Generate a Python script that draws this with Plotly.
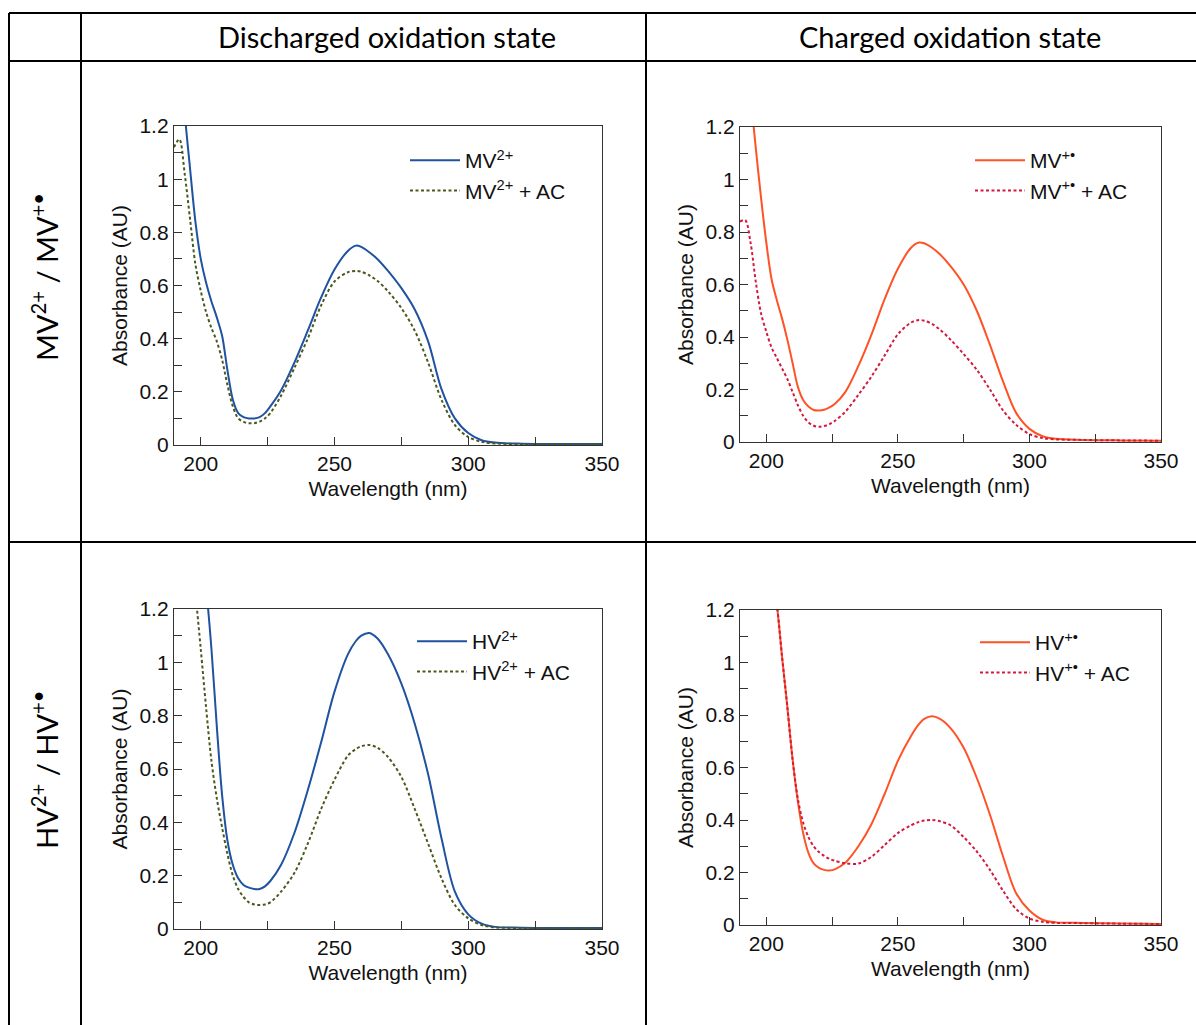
import plotly.graph_objects as go

W, H = 1196, 1025

wavelength = [190, 192, 194, 196, 198, 200, 202, 204, 206, 208, 210, 212, 214, 216, 218, 220,
              222, 224, 226, 230, 235, 240, 245, 250, 255, 258, 260, 263, 266, 270, 275, 280,
              285, 290, 295, 300, 305, 310, 320, 335, 350]

mv2 = [1.9, 1.55, 1.25, 1.04, 0.84, 0.70, 0.61, 0.54, 0.48, 0.41, 0.28, 0.17, 0.12, 0.105, 0.10, 0.10,
       0.105, 0.12, 0.145, 0.205, 0.31, 0.43, 0.555, 0.66, 0.73, 0.75, 0.745, 0.725, 0.70, 0.655, 0.59, 0.51,
       0.39, 0.21, 0.10, 0.045, 0.018, 0.009, 0.005, 0.004, 0.004]
mv2_ac = [1.12, 1.15, 1.02, 0.85, 0.68, 0.58, 0.50, 0.44, 0.39, 0.32, 0.225, 0.145, 0.10, 0.087, 0.082, 0.082,
          0.088, 0.10, 0.12, 0.185, 0.29, 0.40, 0.525, 0.615, 0.65, 0.655, 0.652, 0.638, 0.618, 0.578, 0.515, 0.43,
          0.31, 0.17, 0.075, 0.03, 0.012, 0.006, 0.003, 0.003, 0.003]
mv1 = [2.0, 1.6, 1.33, 1.12, 0.93, 0.76, 0.62, 0.54, 0.47, 0.39, 0.30, 0.21, 0.16, 0.135, 0.122, 0.12,
       0.123, 0.132, 0.145, 0.19, 0.29, 0.41, 0.545, 0.66, 0.74, 0.76, 0.757, 0.74, 0.715, 0.67, 0.60, 0.50,
       0.37, 0.23, 0.11, 0.05, 0.022, 0.012, 0.008, 0.006, 0.005]
mv1_ac = [0.84, 0.845, 0.76, 0.61, 0.49, 0.42, 0.36, 0.32, 0.28, 0.24, 0.19, 0.14, 0.10, 0.075, 0.062, 0.058,
          0.061, 0.068, 0.08, 0.115, 0.18, 0.25, 0.33, 0.41, 0.455, 0.465, 0.462, 0.45, 0.428, 0.39, 0.335, 0.275,
          0.20, 0.12, 0.065, 0.03, 0.015, 0.01, 0.008, 0.006, 0.005]
hv2 = [3.0, 2.6, 2.2, 1.9, 1.65, 1.45, 1.28, 1.05, 0.76, 0.50, 0.33, 0.24, 0.19, 0.165, 0.155, 0.15,
       0.15, 0.16, 0.18, 0.24, 0.36, 0.52, 0.70, 0.89, 1.03, 1.08, 1.10, 1.11, 1.09, 1.03, 0.92, 0.77,
       0.58, 0.34, 0.14, 0.055, 0.02, 0.008, 0.005, 0.004, 0.004]
hv2_ac = [2.2, 1.9, 1.65, 1.45, 1.26, 1.05, 0.83, 0.63, 0.49, 0.38, 0.28, 0.20, 0.15, 0.12, 0.10, 0.092,
          0.09, 0.092, 0.10, 0.14, 0.21, 0.32, 0.45, 0.56, 0.65, 0.675, 0.685, 0.69, 0.68, 0.645, 0.57, 0.45,
          0.32, 0.19, 0.09, 0.04, 0.015, 0.006, 0.004, 0.003, 0.003]
hv1 = [3.0, 2.6, 2.25, 1.95, 1.7, 1.5, 1.35, 1.22, 1.02, 0.83, 0.63, 0.47, 0.35, 0.275, 0.235, 0.218,
       0.21, 0.208, 0.212, 0.237, 0.30, 0.385, 0.50, 0.625, 0.72, 0.765, 0.785, 0.795, 0.785, 0.75, 0.675, 0.56,
       0.42, 0.26, 0.12, 0.055, 0.02, 0.01, 0.008, 0.006, 0.004]
hv1_ac = [3.0, 2.6, 2.25, 1.95, 1.7, 1.5, 1.35, 1.22, 1.02, 0.83, 0.63, 0.48, 0.39, 0.335, 0.30, 0.278,
          0.263, 0.252, 0.245, 0.235, 0.234, 0.26, 0.305, 0.35, 0.38, 0.393, 0.398, 0.40, 0.395, 0.38, 0.335, 0.28,
          0.21, 0.13, 0.06, 0.025, 0.012, 0.008, 0.007, 0.005, 0.004]

col_headers = ["Discharged oxidation state", "Charged oxidation state"]
row_headers = ["MV<sup>2+</sup> / MV<sup>+•</sup>", "HV<sup>2+</sup> / HV<sup>+•</sup>"]
y_ticks = [0, 0.2, 0.4, 0.6, 0.8, 1, 1.2]
y_ticktext = ["0", "0.2", "0.4", "0.6", "0.8", "1", "1.2"]
x_ticks = [200, 250, 300, 350]

BLUE = "#1f52a0"
OLIVE = "#4a5a1e"
ORANGE = "#ff5226"
RED = "#d41a3c"

def px(x):
    return x / W

def py(y):
    return 1 - y / H

# panel boxes in pixels: (left, right, top, bottom)
panels = [
    (174, 602, 126, 445),
    (740, 1161, 127, 442),
    (174, 602, 609, 929),
    (740, 1161, 610, 925),
]

series = [
    (mv2, "MV<sup>2+</sup>", BLUE, mv2_ac, "MV<sup>2+</sup> + AC", OLIVE),
    (mv1, "MV<sup>+•</sup>", ORANGE, mv1_ac, "MV<sup>+•</sup> + AC", RED),
    (hv2, "HV<sup>2+</sup>", BLUE, hv2_ac, "HV<sup>2+</sup> + AC", OLIVE),
    (hv1, "HV<sup>+•</sup>", ORANGE, hv1_ac, "HV<sup>+•</sup> + AC", RED),
]

legend_pos = [(405, 140), (970, 140), (412, 621), (975, 622)]

fig = go.Figure()
FONT = "Liberation Sans, Arial, sans-serif"
FS = 21
layout = dict(
    width=W, height=H, margin=dict(l=0, r=0, t=0, b=0, autoexpand=False),
    paper_bgcolor="white", plot_bgcolor="white", showlegend=True,
)

for i, (s1, n1, c1, s2, n2, c2) in enumerate(series):
    k = "" if i == 0 else str(i + 1)
    lg = "legend" if i == 0 else f"legend{i + 1}"
    fig.add_trace(go.Scatter(x=wavelength, y=s1, name=n1, mode="lines",
                             line=dict(color=c1, width=2, shape="spline", smoothing=0.9),
                             xaxis="x" + k, yaxis="y" + k, legend=lg))
    fig.add_trace(go.Scatter(x=wavelength, y=s2, name=n2, mode="lines",
                             line=dict(color=c2, width=2, dash="3px,2.5px", shape="spline", smoothing=0.9),
                             xaxis="x" + k, yaxis="y" + k, legend=lg))
    l, r, t, b = panels[i]
    axis_common = dict(showline=True, linecolor="#333333", linewidth=1.3, mirror=True,
                       showgrid=False, zeroline=False, automargin=False,
                       tickfont=dict(family=FONT, size=FS, color="#111111"),
                       ticks="inside", ticklen=8, tickcolor="#333333", tickwidth=1.2)
    layout["xaxis" + k] = dict(
        domain=[px(l), px(r)], range=[190, 350], anchor="y" + k,
        tickvals=x_ticks, ticktext=[str(v) for v in x_ticks],
        minor=dict(dtick=25, tick0=200, ticks="inside", ticklen=8, tickcolor="#333333", tickwidth=1.2),
        title=dict(text="Wavelength (nm)", font=dict(family=FONT, size=FS, color="#111111"), standoff=6),
        **axis_common)
    layout["yaxis" + k] = dict(
        domain=[py(b), py(t)], range=[0, 1.2], anchor="x" + k,
        tickvals=y_ticks, ticktext=y_ticktext,
        minor=dict(dtick=0.1, tick0=0, ticks="inside", ticklen=8, tickcolor="#333333", tickwidth=1.2),
        title=dict(text="Absorbance (AU)", font=dict(family=FONT, size=FS, color="#111111"), standoff=6),
        **axis_common)
    lx, ly = legend_pos[i]
    layout[lg] = dict(x=px(lx), y=py(ly), xanchor="left", yanchor="top",
                      bgcolor="rgba(0,0,0,0)", font=dict(family=FONT, size=FS, color="#111111"),
                      itemwidth=50, tracegroupgap=0)

fig.update_layout(**layout)

# table grid lines
LW = 2
lines = [
    (9, 13, 1196, 13), (9, 61, 1196, 61), (9, 542, 1196, 542),
    (9, 13, 9, 1025), (81, 13, 81, 1025), (646, 13, 646, 1025),
]
for x0, y0, x1, y1 in lines:
    fig.add_shape(type="line", xref="paper", yref="paper",
                  x0=px(x0), y0=py(y0), x1=px(x1), y1=py(y1),
                  line=dict(color="black", width=LW))

HFONT = "Lato, Open Sans, sans-serif"
for txt, cx in zip(col_headers, [387, 950]):
    fig.add_annotation(text=txt, x=px(cx), y=py(36), xref="paper", yref="paper",
                       xanchor="center", yanchor="middle",
                       showarrow=False, font=dict(family=HFONT, size=29, color="black"))
for txt, cy in zip(row_headers, [277, 770]):
    fig.add_annotation(text=txt, x=px(45), y=py(cy), xref="paper", yref="paper",
                       xanchor="center", yanchor="middle",
                       showarrow=False, textangle=-90, font=dict(family=HFONT, size=29, color="black"))

fig.write_html("out.html")
